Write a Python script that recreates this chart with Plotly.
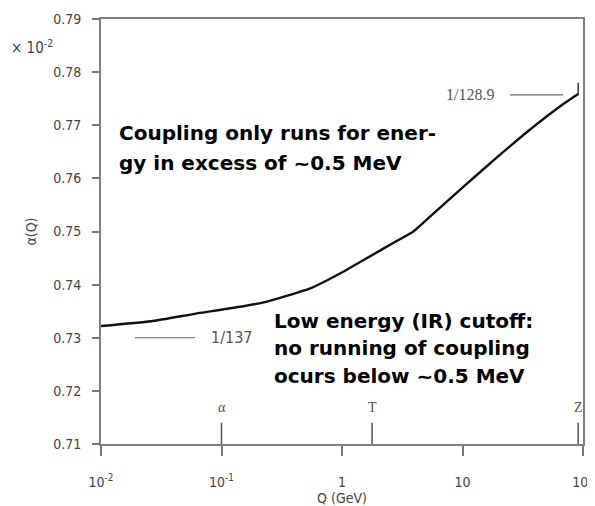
import math
import plotly.graph_objects as go

# Running coupling data (alpha in units of 10^-2)
q_gev = [0.01, 0.026, 0.06, 0.22, 0.56, 0.795, 1.06, 1.5, 2.84, 3.91, 5.37, 10.15, 19.2, 36.4, 68.6, 91.2]
alpha = [0.7322, 0.7331, 0.7345, 0.7366, 0.7394, 0.7411, 0.7426, 0.7446, 0.7482, 0.7500, 0.7528, 0.7584,
         0.7639, 0.7692, 0.7740, 0.7759]

x_tickvals = [0.01, 0.1, 1, 10, 100]
x_ticktext = ["10<sup>-2</sup>", "10<sup>-1</sup>", "1", "10", "10<sup>2</sup>"]
y_tickvals = [0.71, 0.72, 0.73, 0.74, 0.75, 0.76, 0.77, 0.78, 0.79]
y_ticktext = ["0.71", "0.72", "0.73", "0.74", "0.75", "0.76", "0.77", "0.78", "0.79"]

# particle mass markers
mass_labels = ["α", "T", "Z"]
mass_q = [0.1, 1.777, 91.2]
mass_line_top = 0.714
mass_label_y = 0.7168

# reference values
z_bar = [0.7757, 0.7780]
ref_hi_label = "1/128.9"
ref_hi_y = 0.7757
ref_hi_line = [24.8, 68.2]
ref_hi_text_q = 11.5
ref_lo_label = "1/137"
ref_lo_y = 0.7300
ref_lo_line = [0.0191, 0.0603]
ref_lo_text_q = 0.122

# explanatory text lines and their vertical positions
note1_lines = ["Coupling only runs for ener-", "gy in excess of ~0.5 MeV"]
note1_y = [0.76854, 0.76289]
note2_lines = ["Low energy (IR) cutoff:", "no running of coupling", "ocurs below ~0.5 MeV"]
note2_y = [0.73315, 0.72807, 0.72279]

tick_font = dict(family="Liberation Sans Narrow, DejaVu Sans Condensed, Arial Narrow, sans-serif", size=14, color="#444444")
bold_font = dict(family="DejaVu Sans, sans-serif", size=20, color="black")

fig = go.Figure()
fig.add_trace(go.Scatter(x=q_gev, y=alpha, mode="lines",
                         line=dict(color="#111111", width=2.4, shape="spline", smoothing=0.5),
                         showlegend=False, hoverinfo="skip"))

# mass marker lines
for q in mass_q:
    fig.add_shape(type="line", x0=q, x1=q, y0=0.71, y1=mass_line_top, xref="x", yref="y",
                  line=dict(color="#555555", width=1.5))
for lab, q in zip(mass_labels, mass_q):
    fig.add_annotation(x=math.log10(q), y=mass_label_y, text=lab, showarrow=False, xref="x", yref="y",
                       font=dict(family="Liberation Serif, serif", size=14, color="#555555"))

# Z error bar
fig.add_shape(type="line", x0=mass_q[2], x1=mass_q[2], y0=z_bar[0], y1=z_bar[1], xref="x", yref="y",
              line=dict(color="#333333", width=1.5))

# reference lines
fig.add_shape(type="line", x0=ref_hi_line[0], x1=ref_hi_line[1], y0=ref_hi_y, y1=ref_hi_y, xref="x", yref="y",
              line=dict(color="#666666", width=1.2))
fig.add_annotation(x=math.log10(ref_hi_text_q), y=ref_hi_y, text=ref_hi_label, showarrow=False, xref="x", yref="y",
                   font=dict(family="Liberation Serif, serif", size=16, color="#555555"))
fig.add_shape(type="line", x0=ref_lo_line[0], x1=ref_lo_line[1], y0=ref_lo_y, y1=ref_lo_y, xref="x", yref="y",
              line=dict(color="#666666", width=1.2))
fig.add_annotation(x=math.log10(ref_lo_text_q), y=ref_lo_y, text=ref_lo_label, showarrow=False, xref="x", yref="y",
                   font=dict(family="Liberation Sans Narrow, DejaVu Sans Condensed, sans-serif", size=16, color="#555555"))

# bold explanatory text
for txt, yv in zip(note1_lines, note1_y):
    fig.add_annotation(x=0.033, y=yv, xref="paper", yref="y", xanchor="left", yanchor="middle", showarrow=False,
                       text="<b>" + txt + "</b>", font=bold_font)
for txt, yv in zip(note2_lines, note2_y):
    fig.add_annotation(x=0.355, y=yv, xref="paper", yref="y", xanchor="left", yanchor="middle", showarrow=False,
                       text="<b>" + txt + "</b>", font=bold_font)

# x 10^-2 label
fig.add_annotation(x=-0.19, y=0.7848, xref="paper", yref="y", xanchor="left", showarrow=False,
                   text="× 10<sup>-2</sup>", font=dict(tick_font, size=15))

fig.update_xaxes(type="log", range=[-2, 2], tickvals=x_tickvals, ticktext=x_ticktext, tickfont=tick_font,
                 showline=True, linecolor="#808080", linewidth=2, mirror=True, ticks="outside", ticklen=10,
                 tickcolor="#777777", tickwidth=1.5, showgrid=False, zeroline=False, ticklabelstandoff=14,
                 automargin=False, title=dict(text="Q (GeV)", font=tick_font, standoff=4))
fig.update_yaxes(range=[0.71, 0.79], tickvals=y_tickvals, ticktext=y_ticktext, tickfont=tick_font,
                 showline=True, linecolor="#808080", linewidth=2, mirror=True, ticks="outside", ticklen=7,
                 tickcolor="#777777", tickwidth=1.5, showgrid=False, zeroline=False, ticklabelstandoff=8,
                 automargin=False, title=dict(text="α(Q)", font=tick_font, standoff=13))

fig.update_layout(width=587, height=498, margin=dict(l=93, r=12, t=11, b=62, autoexpand=False),
                  plot_bgcolor="white", paper_bgcolor="white")

fig.write_html("out.html")
